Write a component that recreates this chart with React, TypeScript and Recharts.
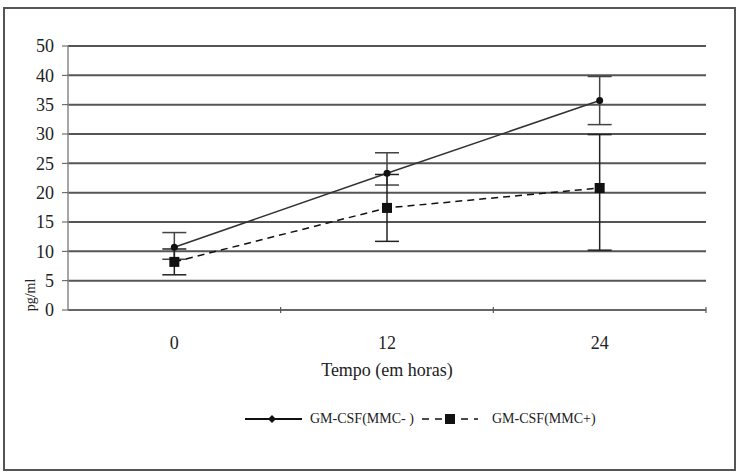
import React from "react";
import { LineChart, Line, XAxis, YAxis, CartesianGrid, ErrorBar } from "recharts";

const hours = [0, 12, 24];
const xTickLabels = ["0", "12", "24"];
const xBoundaryTicks = [6, 18, 30];
const yTicks = [0, 5, 10, 15, 20, 25, 30, 35, 40, 45];
const yTickLabels = ["0", "5", "10", "15", "20", "25", "30", "35", "40", "50"];

const seriesNames = ["GM-CSF(MMC- )", "GM-CSF(MMC+)"];
const mmcMinus = [10.7, 23.3, 35.7];
const mmcMinusErr: [number, number][] = [
  [2.05, 2.5],
  [2.0, 3.5],
  [4.1, 4.1],
];
const mmcPlus = [8.2, 17.4, 20.8];
const mmcPlusErr: [number, number][] = [
  [2.2, 2.2],
  [5.7, 5.7],
  [10.6, 9.1],
];

const data = hours.map((t, i) => ({
  t,
  minus: mmcMinus[i],
  minusErr: mmcMinusErr[i],
  plus: mmcPlus[i],
  plusErr: mmcPlusErr[i],
}));

const FONT = "'Liberation Serif', 'Times New Roman', serif";

const XTick = (props: any) => {
  const { x, y, payload } = props;
  const idx = hours.indexOf(payload.value);
  if (idx >= 0) {
    return (
      <text x={x} y={y + 33} textAnchor="middle" dominantBaseline="central" style={{ fontFamily: FONT, fontSize: 18 }} fill="#222">
        {xTickLabels[idx]}
      </text>
    );
  }
  return <line x1={x} x2={x} y1={y - 3} y2={y + 3} stroke="#555" strokeWidth={1.2} />;
};

const CircleDot = (props: any) => {
  const { cx, cy, index } = props;
  if (cx == null || cy == null) return <g key={index} />;
  return <circle key={index} cx={cx} cy={cy} r={3.5} fill="#111" />;
};

const SquareDot = (props: any) => {
  const { cx, cy, index } = props;
  if (cx == null || cy == null) return <g key={index} />;
  return <rect key={index} x={cx - 5} y={cy - 5} width={10} height={10} fill="#111" />;
};

export default function App() {
  return (
    <div style={{ position: "absolute", left: 0, top: 0, width: 737, height: 472, background: "#fff" }}>
      <div
        style={{
          position: "absolute",
          left: 3,
          top: 7,
          width: 733,
          height: 464,
          boxSizing: "border-box",
          border: "2px solid #555",
        }}
      />
      <div style={{ position: "absolute", left: 0, top: 0 }}>
        <LineChart width={737} height={472} data={data} margin={{ top: 46, right: 31, left: 8, bottom: 102 }}>
          <CartesianGrid horizontal vertical={false} stroke="#555" strokeWidth={2} />
          <XAxis
            dataKey="t"
            type="number"
            domain={[-6, 30]}
            ticks={[...hours, ...xBoundaryTicks].sort((a, b) => a - b)}
            tick={<XTick />}
            tickLine={false}
            tickSize={0}
            tickMargin={0}
            height={60}
            axisLine={{ stroke: "#666", strokeWidth: 2 }}
            interval={0}
            label={(p: any) => {
              const vb = p.viewBox;
              return (
                <text
                  x={vb.x + vb.width / 2}
                  y={vb.y + 60}
                  textAnchor="middle"
                  dominantBaseline="central"
                  style={{ fontFamily: FONT, fontSize: 18 }}
                  fill="#222"
                >
                  Tempo (em horas)
                </text>
              );
            }}
          />
          <YAxis
            type="number"
            domain={[0, 45]}
            ticks={yTicks}
            interval={0}
            width={60}
            tickFormatter={(v: number) => yTickLabels[yTicks.indexOf(v)] ?? String(v)}
            tick={{ fill: "#222", style: { fontFamily: FONT, fontSize: 18 } }}
            tickSize={6}
            tickMargin={8}
            tickLine={{ stroke: "#555" }}
            axisLine={{ stroke: "#888", strokeWidth: 1.5 }}
            label={(p: any) => {
              const vb = p.viewBox;
              const cx = vb.x + 22;
              const cy = vb.y + vb.height - 15;
              return (
                <text
                  x={cx}
                  y={cy}
                  transform={`rotate(-90 ${cx} ${cy})`}
                  textAnchor="middle"
                  dominantBaseline="central"
                  style={{ fontFamily: FONT, fontSize: 14 }}
                  fill="#222"
                >
                  pg/ml
                </text>
              );
            }}
          />
          <Line
            dataKey="minus"
            name={seriesNames[0]}
            stroke="#333"
            strokeWidth={1.5}
            dot={CircleDot}
            activeDot={false}
            isAnimationActive={false}
          >
            <ErrorBar dataKey="minusErr" width={12} stroke="#444" strokeWidth={1.5} direction="y" isAnimationActive={false} />
          </Line>
          <Line
            dataKey="plus"
            name={seriesNames[1]}
            stroke="#111"
            strokeWidth={1.5}
            strokeDasharray="7 5"
            dot={SquareDot}
            activeDot={false}
            isAnimationActive={false}
          >
            <ErrorBar dataKey="plusErr" width={12} stroke="#222" strokeWidth={1.5} direction="y" isAnimationActive={false} />
          </Line>
        </LineChart>
      </div>
      {/* legend */}
      <svg style={{ position: "absolute", left: 240, top: 410 }} width={70} height={20}>
        <line x1={5} x2={62} y1={9} y2={9} stroke="#111" strokeWidth={1.8} />
        <path d="M32 5 L36 9 L32 13 L28 9 Z" fill="#111" />
      </svg>
      <div
        style={{
          position: "absolute",
          left: 310,
          top: 410,
          fontFamily: FONT,
          fontSize: 14,
          color: "#222",
          lineHeight: "18px",
          whiteSpace: "pre",
        }}
      >
        {seriesNames[0]}
      </div>
      <svg style={{ position: "absolute", left: 420, top: 410 }} width={65} height={20}>
        <line x1={2} x2={58} y1={9} y2={9} stroke="#111" strokeWidth={1.5} strokeDasharray="7 6" />
        <rect x={25} y={4} width={10} height={10} fill="#111" />
      </svg>
      <div
        style={{
          position: "absolute",
          left: 492,
          top: 410,
          fontFamily: FONT,
          fontSize: 14,
          color: "#222",
          lineHeight: "18px",
          whiteSpace: "pre",
        }}
      >
        {seriesNames[1]}
      </div>
    </div>
  );
}
